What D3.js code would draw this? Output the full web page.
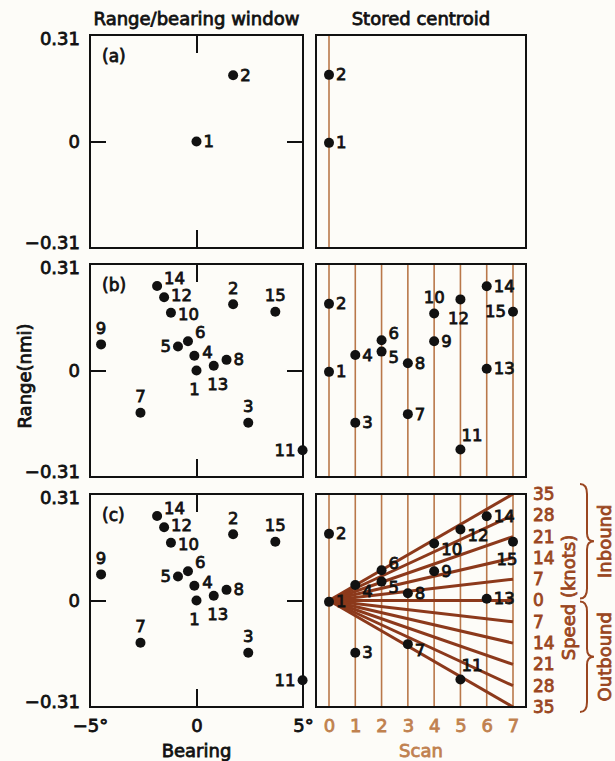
<!DOCTYPE html>
<html>
<head>
<meta charset="utf-8">
<script src="https://cdnjs.cloudflare.com/ajax/libs/d3/7.8.5/d3.min.js"></script>
<style>
  body { margin: 0; background: #fdfcf8; }
  svg { display: block; }
  text { font-family: 'DejaVu Sans', sans-serif; }
</style>
</head>
<body>
<svg id="chart" width="615" height="761"></svg>
<script>
// data
const targets = [1, 2, 3, 4, 5, 6, 7, 8, 9, 10, 11, 12, 13, 14, 15]
const bearing = [0, 1.72, 2.43, -0.1, -0.87, -0.4, -2.63, 1.41, -4.48, -1.2, 4.98, -1.52, 0.81, -1.85, 3.7]
const range = [0, 0.193, -0.152, 0.043, 0.07, 0.085, -0.123, 0.031, 0.076, 0.168, -0.232, 0.213, 0.014, 0.246, 0.171]
const scan = [0, 0, 1, 1, 2, 2, 3, 3, 4, 4, 5, 5, 6, 6, 7]
const storedRange = [-0.004, 0.194, -0.152, 0.045, 0.055, 0.088, -0.127, 0.021, 0.085, 0.166, -0.23, 0.207, 0.005, 0.245, 0.171]
const panelNames = ['(a)', '(b)', '(c)']
const panelCount = [2, 15, 15]        // targets shown in each panel
const panelScans = [[0], [0, 1, 2, 3, 4, 5, 6, 7], [0, 1, 2, 3, 4, 5, 6, 7]]
const rangeTicks = [0.31, 0, -0.31]
const bearingTicks = [-5, 0, 5]
const speeds = [35, 28, 21, 14, 7, 0, -7, -14, -21, -28, -35]

// label placement per panel (layout only)
const leftPlace = [
	['r', 'r'],
	['b', 't', 't', 'r4', 'l', 'r6', 't', 'r', 't', 'rd', 'l', 'ru', 'bs', 'tr', 't'],
	['b', 't', 't', 'r4', 'l', 'r6', 't', 'r', 't', 'rd', 'l', 'ru', 'bs', 'tr', 't']
]
const rightPlace = [
	['r', 'r'],
	['r', 'r', 'r', 'r', 'br', 'tr', 'r', 'r', 'r', 't', 'ta', 'b', 'r', 'r', 'l'],
	['r', 'r', 'r', 'br', 'br', 'tr', 'br', 'r', 'r', 'br', 'ta', 'br', 'r', 'r', 'bl']
]
const offsets = {
	r: [7, 0, 'start'], l: [-7, 0, 'end'], t: [0, -16, 'middle'], b: [-2, 19, 'middle'],
	tr: [7, -7, 'start'], br: [7, 6, 'start'], bs: [4, 19, 'middle'], bl: [-6, 18, 'middle'],
	ta: [1, -14, 'start'], r4: [8, -3, 'start'], r6: [7, -9, 'start'],
	rd: [7, 2, 'start'], ru: [7, -2, 'start']
}

const svg = d3.select('#chart')
const black = '#111'
const scanColor = '#b9784a'
const fanColor = '#8c391b'
const speedColor = '#9a4621'
const scanLabelColor = '#c0814f'

const leftX0 = 90, leftX1 = 303
const rightX0 = 316, rightX1 = 526
const panelTop = [35, 264, 494]
const panelH = 213

const xBear = d3.scaleLinear().domain([-5, 5]).range([leftX0, leftX1])
const xScan = d3.scaleLinear().domain([0, 7]).range([329, 513])

const bold = sel => sel.attr('stroke', 'currentColor').attr('stroke-width', 0.8)

// column titles
svg.append('text').attr('x', (leftX0 + leftX1) / 2).attr('y', 25)
	.attr('text-anchor', 'middle').style('font-size', '18px').attr('fill', black).style('color', black)
	.text('Range/bearing window').call(bold)
svg.append('text').attr('x', (rightX0 + rightX1) / 2).attr('y', 25)
	.attr('text-anchor', 'middle').style('font-size', '18px').attr('fill', black).style('color', black)
	.text('Stored centroid').call(bold)

const fmtRange = d => d === 0 ? '0' : (d < 0 ? '\u2212' : '') + Math.abs(d).toFixed(2)

const placeLabel = (g, pts, places) => {
	g.selectAll('text.lbl')
		.data(pts)
		.enter()
		.append('text')
		.attr('class', 'lbl')
		.attr('x', (d, i) => d.x + offsets[places[i]][0])
		.attr('y', (d, i) => d.y + offsets[places[i]][1])
		.attr('text-anchor', (d, i) => offsets[places[i]][2])
		.attr('dominant-baseline', 'central')
		.style('font-size', '16.5px')
		.attr('fill', black)
		.style('color', black)
		.text(d => d.id)
		.call(bold)
}

panelNames.forEach((name, p) => {
	const top = panelTop[p]
	const y = d3.scaleLinear().domain([-0.31, 0.31]).range([top + panelH, top])
	const n = panelCount[p]

	// ---------- left panel ----------
	const gl = svg.append('g')

	gl.append('rect')
		.attr('x', leftX0).attr('y', top)
		.attr('width', leftX1 - leftX0).attr('height', panelH)
		.attr('fill', 'none').attr('stroke', black).attr('stroke-width', 2)

	// inner ticks at zero
	const inner = [
		[d3.axisRight(y).tickValues([0]).tickSize(16), `translate(${leftX0},0)`],
		[d3.axisLeft(y).tickValues([0]).tickSize(16), `translate(${leftX1},0)`],
		[d3.axisBottom(xBear).tickValues([0]).tickSize(18), `translate(0,${top})`],
		[d3.axisTop(xBear).tickValues([0]).tickSize(18), `translate(0,${top + panelH})`]
	]
	inner.forEach(([ax, tr]) => {
		const g = gl.append('g').attr('transform', tr).call(ax.tickFormat(''))
		g.select('.domain').remove()
		g.selectAll('.tick line').attr('stroke', black).attr('stroke-width', 2)
	})

	// range tick labels (end labels pulled a little inside the frame)
	const yl = gl.append('g')
		.attr('transform', `translate(${leftX0},0)`)
		.call(d3.axisLeft(y).tickValues(rangeTicks).tickSize(0).tickPadding(10).tickFormat(fmtRange))
	yl.select('.domain').remove()
	yl.selectAll('.tick text')
		.attr('fill', black).style('color', black).style('font-size', '18px')
		.style('font-family', "'DejaVu Sans', sans-serif")
		.attr('y', d => d > 0 ? 4 : d < 0 ? -5 : 0)
		.call(bold)

	gl.append('text')
		.attr('x', 102).attr('y', top + 21)
		.attr('dominant-baseline', 'central')
		.style('font-size', '17px').attr('fill', black).style('color', black)
		.text(name).call(bold)

	const ptsL = targets.slice(0, n).map((id, i) => ({ id: id, x: xBear(bearing[i]), y: y(range[i]) }))
	gl.selectAll('circle.pt')
		.data(ptsL)
		.enter()
		.append('circle')
		.attr('class', 'pt')
		.attr('cx', d => d.x).attr('cy', d => d.y)
		.attr('r', 5).attr('fill', black)
	placeLabel(gl, ptsL, leftPlace[p])

	// ---------- right panel ----------
	const gr = svg.append('g')

	gr.selectAll('line.scan')
		.data(panelScans[p])
		.enter()
		.append('line')
		.attr('class', 'scan')
		.attr('x1', d => xScan(d)).attr('x2', d => xScan(d))
		.attr('y1', top).attr('y2', top + panelH)
		.attr('stroke', scanColor).attr('stroke-width', 1.6)

	if (p === 2) {
		const ySpeed = d3.scaleLinear().domain([-35, 35]).range([top + panelH, top])
		const line = d3.line().x(d => xScan(d[0])).y(d => ySpeed(d[1]))
		gr.selectAll('path.fan')
			.data(speeds)
			.enter()
			.append('path')
			.attr('class', 'fan')
			.attr('d', s => line([[0, 0], [7, s]]))
			.attr('fill', 'none').attr('stroke', fanColor).attr('stroke-width', 3)

		const sp = gr.append('g')
			.attr('transform', `translate(${rightX1},0)`)
			.call(d3.axisRight(ySpeed).tickValues(speeds).tickSize(0).tickPadding(7).tickFormat(d => Math.abs(d)))
		sp.select('.domain').remove()
		sp.selectAll('.tick text')
			.attr('fill', speedColor).style('color', speedColor).style('font-size', '17px')
			.style('font-family', "'DejaVu Sans', sans-serif").call(bold)

		// braces for inbound / outbound
		const brace = (y0, y1) => {
			const m = (y0 + y1) / 2
			return `M580,${y0} Q587,${y0} 587,${y0 + 10} L587,${m - 8} Q587,${m} 594,${m} ` +
				`Q587,${m} 587,${m + 8} L587,${y1 - 10} Q587,${y1} 580,${y1}`
		}
		gr.append('path').attr('d', brace(ySpeed(35) - 10, ySpeed(0) - 2))
			.attr('fill', 'none').attr('stroke', speedColor).attr('stroke-width', 2)
		gr.append('path').attr('d', brace(ySpeed(0) + 1, ySpeed(-35) + 5))
			.attr('fill', 'none').attr('stroke', speedColor).attr('stroke-width', 2)

		const rot = (x, yy, t) => gr.append('text')
			.attr('transform', `translate(${x},${yy}) rotate(-90)`)
			.attr('text-anchor', 'middle').attr('dominant-baseline', 'central')
			.style('font-size', '18px').attr('fill', speedColor).style('color', speedColor)
			.text(t).call(bold)
		rot(568, ySpeed(0) - 3, 'Speed (knots)')
		rot(604, (ySpeed(35) + ySpeed(0)) / 2 - 6, 'Inbound')
		rot(604, (ySpeed(0) + ySpeed(-35)) / 2 + 3, 'Outbound')

		// bottom axes
		const bx = svg.append('g')
			.attr('transform', `translate(0,${top + panelH})`)
			.call(d3.axisBottom(xBear).tickValues(bearingTicks).tickSize(0).tickPadding(12)
				.tickFormat(d => d === 0 ? '0' : (d < 0 ? '\u2212' : '') + Math.abs(d) + '\u00b0'))
		bx.select('.domain').remove()
		bx.selectAll('.tick text')
			.attr('fill', black).style('color', black).style('font-size', '18px')
			.style('font-family', "'DejaVu Sans', sans-serif").call(bold)

		const sx = svg.append('g')
			.attr('transform', `translate(0,${top + panelH})`)
			.call(d3.axisBottom(xScan).tickValues(panelScans[p]).tickSize(0).tickPadding(12)
				.tickFormat(d3.format('d')))
		sx.select('.domain').remove()
		sx.selectAll('.tick text')
			.attr('fill', scanLabelColor).style('color', scanLabelColor).style('font-size', '18px')
			.style('font-family', "'DejaVu Sans', sans-serif").call(bold)

		svg.append('text').attr('x', (leftX0 + leftX1) / 2).attr('y', 757)
			.attr('text-anchor', 'middle').style('font-size', '18px').attr('fill', black).style('color', black)
			.text('Bearing').call(bold)
		svg.append('text').attr('x', (xScan(0) + xScan(7)) / 2).attr('y', 757)
			.attr('text-anchor', 'middle').style('font-size', '18px')
			.attr('fill', scanLabelColor).style('color', scanLabelColor)
			.text('Scan').call(bold)
	}

	gr.append('rect')
		.attr('x', rightX0).attr('y', top)
		.attr('width', rightX1 - rightX0).attr('height', panelH)
		.attr('fill', 'none').attr('stroke', black).attr('stroke-width', 2)

	const ptsR = targets.slice(0, n).map((id, i) => ({ id: id, x: xScan(scan[i]), y: y(storedRange[i]) }))
	gr.selectAll('circle.pt')
		.data(ptsR)
		.enter()
		.append('circle')
		.attr('class', 'pt')
		.attr('cx', d => d.x).attr('cy', d => d.y)
		.attr('r', 5).attr('fill', black)
	placeLabel(gr, ptsR, rightPlace[p])
})

svg.append('text')
	.attr('transform', `translate(24,376) rotate(-90)`)
	.attr('text-anchor', 'middle').attr('dominant-baseline', 'central')
	.style('font-size', '18px').attr('fill', black).style('color', black)
	.text('Range(nmi)').call(bold)
</script>
</body>
</html>
